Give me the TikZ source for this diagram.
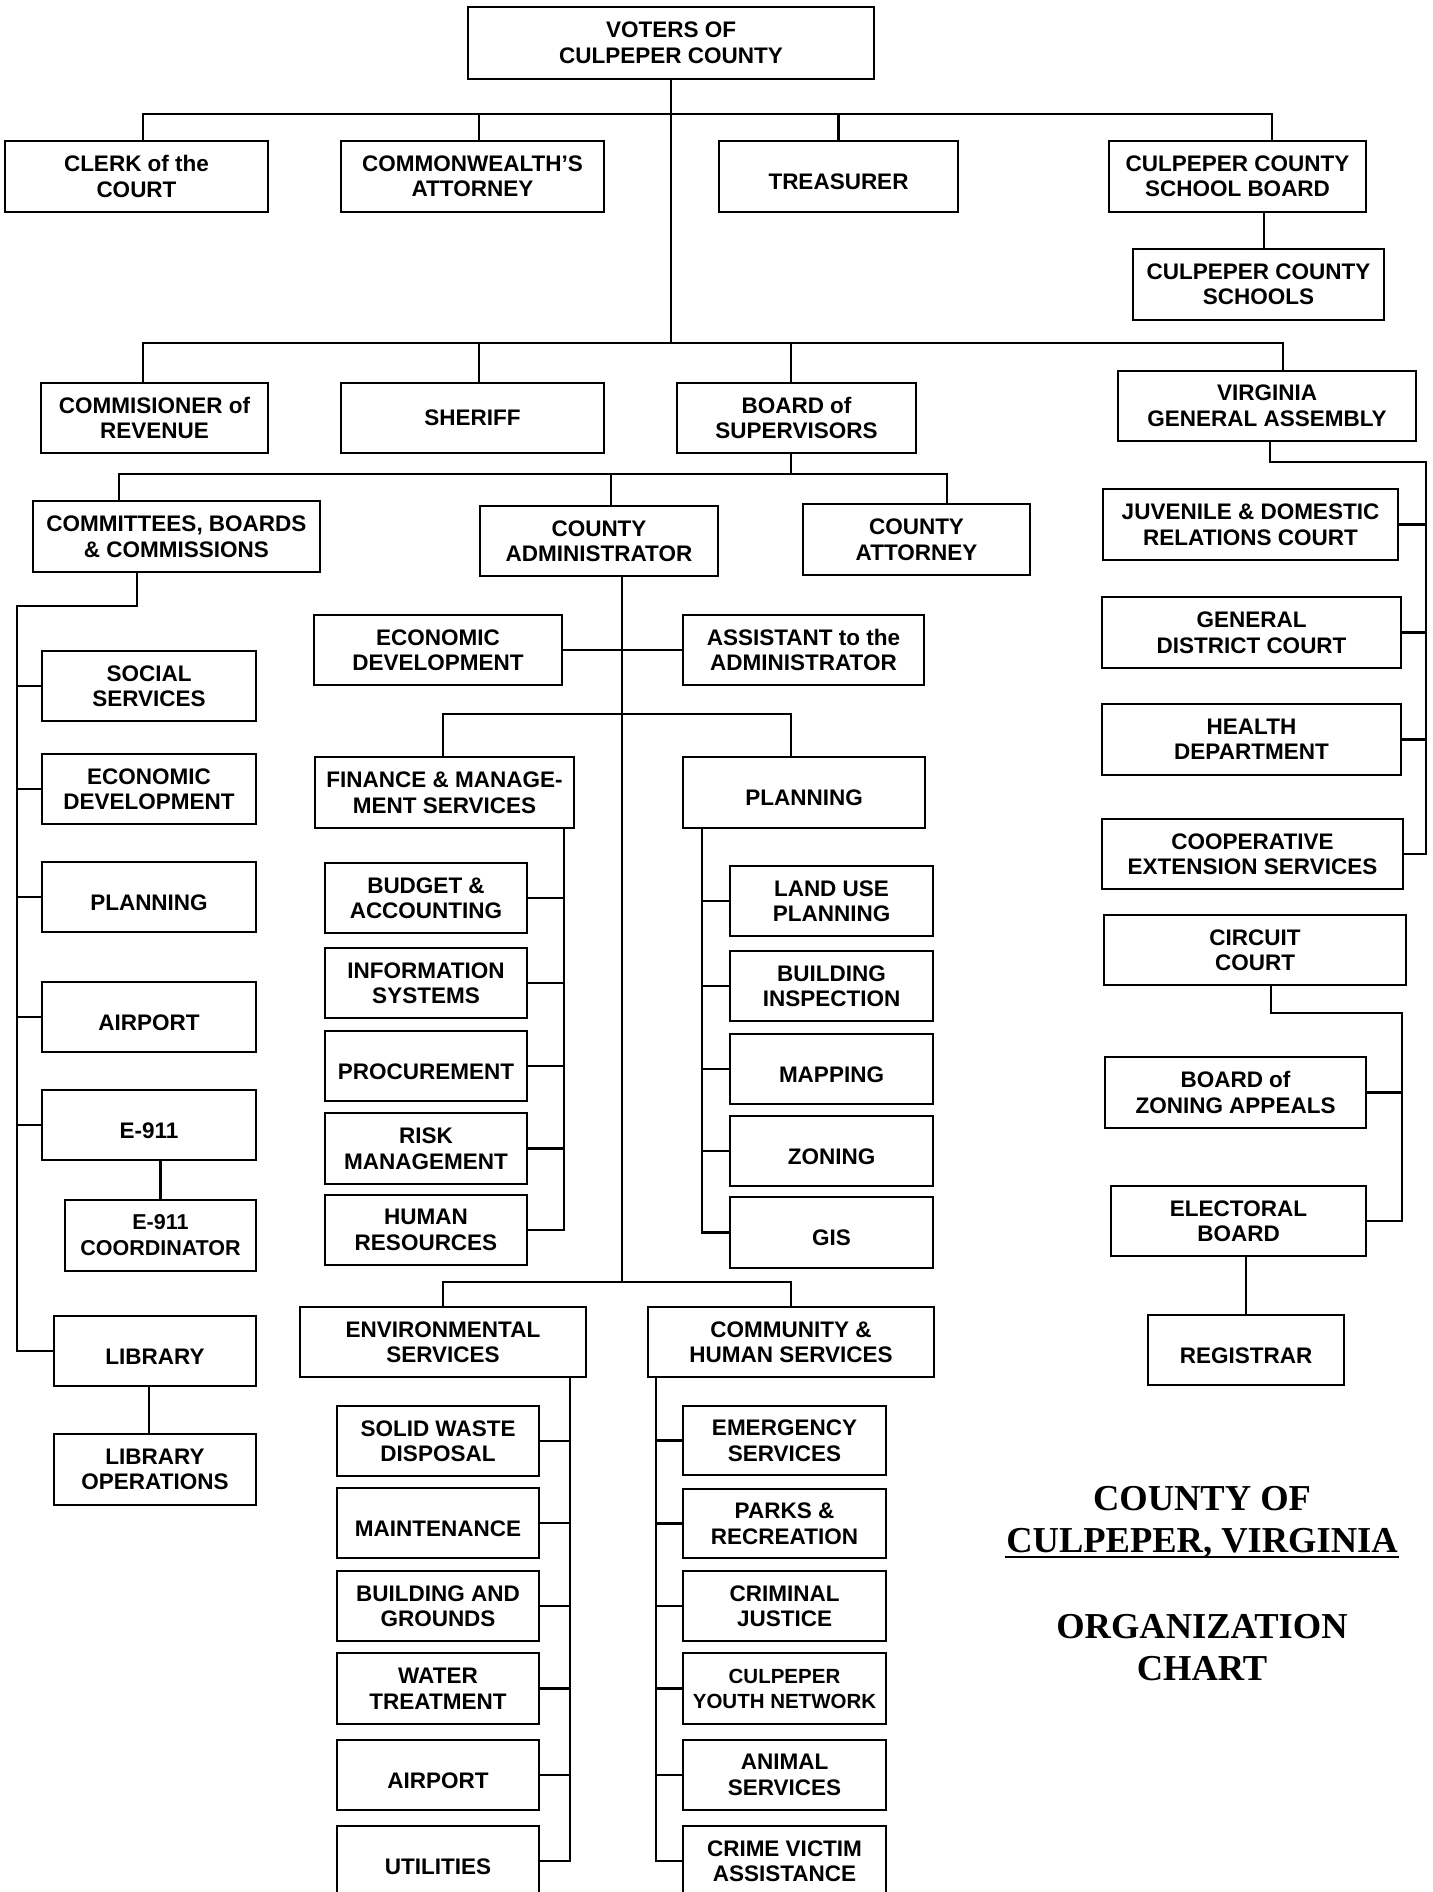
\documentclass[tikz,border=0pt]{standalone}
\usepackage{fontspec}
\setmainfont{Liberation Sans}
\newfontfamily\titleserif{Liberation Serif}

\begin{document}
\begin{tikzpicture}
[line width=2.2pt,
 every node/.style={inner sep=0pt},
 box/.style={draw, align=center, font=\fontsize{22.5}{25.5}\selectfont\bfseries},
 smallbox/.style={font=\fontsize{20.5}{25}\selectfont\bfseries},
 lone/.style={text height=26pt, text depth=0pt},
 ttl/.style={anchor=base, font=\fontsize{36.5}{42}\selectfont\titleserif\bfseries}]
\useasboundingbox (0pt,0pt) rectangle (1432pt,-1892pt);
% elected offices
\node (voters) [box, minimum width=406pt, minimum height=72pt] at (671pt,-43pt) {VOTERS OF\\CULPEPER COUNTY};
\node (clerk) [box, minimum width=263pt, minimum height=71pt] at (136.5pt,-176.5pt) {CLERK of the\\COURT};
\node (cwa) [box, minimum width=263pt, minimum height=71pt] at (472.5pt,-176.5pt) {COMMONWEALTH’S\\ATTORNEY};
\node (treas) [box, lone, minimum width=239pt, minimum height=71pt] at (838.5pt,-176.5pt) {TREASURER};
\node (sboard) [box, minimum width=257pt, minimum height=71pt] at (1237.5pt,-176.5pt) {CULPEPER COUNTY\\SCHOOL BOARD};
\node (schools) [box, minimum width=251pt, minimum height=71pt] at (1258.5pt,-284.5pt) {CULPEPER COUNTY\\SCHOOLS};
\node (comrev) [box, minimum width=227pt, minimum height=70pt] at (154.5pt,-418pt) {COMMISIONER of\\REVENUE};
\node (sheriff) [box, minimum width=263pt, minimum height=70pt] at (472.5pt,-418pt) {SHERIFF};
\node (bos) [box, minimum width=239pt, minimum height=70pt] at (796.5pt,-418pt) {BOARD of\\SUPERVISORS};
\node (vga) [box, minimum width=298pt, minimum height=70pt] at (1267pt,-406pt) {VIRGINIA\\GENERAL ASSEMBLY};
% board of supervisors
\node (cbc) [box, minimum width=287pt, minimum height=71pt] at (176.5pt,-536.5pt) {COMMITTEES, BOARDS\\\& COMMISSIONS};
\node (cadmin) [box, minimum width=238pt, minimum height=70pt] at (599pt,-541pt) {COUNTY\\ADMINISTRATOR};
\node (catty) [box, minimum width=227pt, minimum height=71pt] at (916.5pt,-539.5pt) {COUNTY\\ATTORNEY};
% committees, boards and commissions
\node (lsoc) [box, minimum width=214pt, minimum height=70pt] at (149pt,-686pt) {SOCIAL\\SERVICES};
\node (lecon) [box, minimum width=214pt, minimum height=70pt] at (149pt,-789pt) {ECONOMIC\\DEVELOPMENT};
\node (lplan) [box, lone, minimum width=214pt, minimum height=70pt] at (149pt,-897pt) {PLANNING};
\node (lair) [box, lone, minimum width=214pt, minimum height=70pt] at (149pt,-1017pt) {AIRPORT};
\node (e911) [box, lone, minimum width=214pt, minimum height=70pt] at (149pt,-1125pt) {E-911};
\node (e911c) [box, font=\fontsize{21.5}{26}\selectfont\bfseries, minimum width=191pt, minimum height=71pt] at (160.5pt,-1235.5pt) {E-911\\COORDINATOR};
\node (lib) [box, lone, minimum width=202pt, minimum height=70pt] at (155pt,-1351pt) {LIBRARY};
\node (libops) [box, minimum width=202pt, minimum height=71pt] at (155pt,-1469.5pt) {LIBRARY\\OPERATIONS};
% county administrator
\node (mecon) [box, minimum width=248pt, minimum height=70pt] at (438pt,-650pt) {ECONOMIC\\DEVELOPMENT};
\node (asst) [box, minimum width=241pt, minimum height=70pt] at (803.5pt,-650pt) {ASSISTANT to the\\ADMINISTRATOR};
\node (fin) [box, minimum width=259pt, minimum height=71pt] at (444.5pt,-792.5pt) {FINANCE \& MANAGE-\\MENT SERVICES};
\node (mplan) [box, lone, minimum width=242pt, minimum height=71pt] at (804pt,-792.5pt) {PLANNING};
\node (budget) [box, minimum width=202pt, minimum height=70pt] at (426pt,-898pt) {BUDGET \&\\ACCOUNTING};
\node (info) [box, minimum width=202pt, minimum height=70pt] at (426pt,-983pt) {INFORMATION\\SYSTEMS};
\node (proc) [box, lone, minimum width=202pt, minimum height=70pt] at (426pt,-1066pt) {PROCUREMENT};
\node (risk) [box, minimum width=202pt, minimum height=71pt] at (426pt,-1148.5pt) {RISK\\MANAGEMENT};
\node (hr) [box, minimum width=202pt, minimum height=70pt] at (426pt,-1230pt) {HUMAN\\RESOURCES};
\node (landuse) [box, minimum width=203pt, minimum height=70pt] at (831.5pt,-901pt) {LAND USE\\PLANNING};
\node (bldg) [box, minimum width=203pt, minimum height=70pt] at (831.5pt,-986pt) {BUILDING\\INSPECTION};
\node (mapping) [box, lone, minimum width=203pt, minimum height=70pt] at (831.5pt,-1069pt) {MAPPING};
\node (zoning) [box, lone, minimum width=203pt, minimum height=70pt] at (831.5pt,-1151pt) {ZONING};
\node (gis) [box, lone, minimum width=203pt, minimum height=71pt] at (831.5pt,-1232.5pt) {GIS};
\node (env) [box, minimum width=286pt, minimum height=70pt] at (443pt,-1342pt) {ENVIRONMENTAL\\SERVICES};
\node (chs) [box, minimum width=286pt, minimum height=70pt] at (791pt,-1342pt) {COMMUNITY \&\\HUMAN SERVICES};
\node (solid) [box, minimum width=202pt, minimum height=70pt] at (438pt,-1441pt) {SOLID WASTE\\DISPOSAL};
\node (maint) [box, lone, minimum width=202pt, minimum height=70pt] at (438pt,-1523pt) {MAINTENANCE};
\node (bag) [box, minimum width=202pt, minimum height=70pt] at (438pt,-1606pt) {BUILDING AND\\GROUNDS};
\node (water) [box, minimum width=202pt, minimum height=71pt] at (438pt,-1688.5pt) {WATER\\TREATMENT};
\node (eair) [box, lone, minimum width=202pt, minimum height=70pt] at (438pt,-1775pt) {AIRPORT};
\node (util) [box, lone, minimum width=202pt, minimum height=70pt] at (438pt,-1861pt) {UTILITIES};
\node (emerg) [box, minimum width=203pt, minimum height=69pt] at (784.5pt,-1440.5pt) {EMERGENCY\\SERVICES};
\node (parks) [box, minimum width=203pt, minimum height=69pt] at (784.5pt,-1523.5pt) {PARKS \&\\RECREATION};
\node (crim) [box, minimum width=203pt, minimum height=70pt] at (784.5pt,-1606pt) {CRIMINAL\\JUSTICE};
\node (cyn) [box, smallbox, minimum width=203pt, minimum height=71pt] at (784.5pt,-1688.5pt) {CULPEPER\\YOUTH NETWORK};
\node (animal) [box, minimum width=203pt, minimum height=70pt] at (784.5pt,-1775pt) {ANIMAL\\SERVICES};
\node (cva) [box, minimum width=203pt, minimum height=70pt] at (784.5pt,-1861pt) {CRIME VICTIM\\ASSISTANCE};
% general assembly
\node (jdr) [box, minimum width=295pt, minimum height=71pt] at (1250.5pt,-524.5pt) {JUVENILE \& DOMESTIC\\RELATIONS COURT};
\node (gdc) [box, minimum width=299pt, minimum height=71pt] at (1251.5pt,-632.5pt) {GENERAL\\DISTRICT COURT};
\node (health) [box, minimum width=299pt, minimum height=71pt] at (1251.5pt,-739.5pt) {HEALTH\\DEPARTMENT};
\node (coop) [box, minimum width=301pt, minimum height=70pt] at (1252.5pt,-854pt) {COOPERATIVE\\EXTENSION SERVICES};
\node (circuit) [box, minimum width=302pt, minimum height=70pt] at (1255pt,-950pt) {CIRCUIT\\COURT};
\node (bza) [box, minimum width=261pt, minimum height=71pt] at (1235.5pt,-1092.5pt) {BOARD of\\ZONING APPEALS};
\node (elect) [box, minimum width=255pt, minimum height=70pt] at (1238.5pt,-1221pt) {ELECTORAL\\BOARD};
\node (reg) [box, lone, minimum width=196pt, minimum height=70pt] at (1246pt,-1350pt) {REGISTRAR};
% title
\node (ttla) [ttl] at (1202pt,-1510pt) {COUNTY OF};
\node (ttlb) [ttl] at (1202pt,-1552pt) {CULPEPER, VIRGINIA};
\node (ttlc) [ttl] at (1202pt,-1638pt) {ORGANIZATION};
\node (ttld) [ttl] at (1202pt,-1680pt) {CHART};
\draw [line width=2pt] ([yshift=-5pt]ttlb.base west) -- ([yshift=-5pt]ttlb.base east);
% branch points
\coordinate (br1) at (671pt,-114pt);
\coordinate (br2) at (671pt,-343pt);
\coordinate (br3) at (791pt,-474pt);
\coordinate (br4) at (622pt,-714pt);
\coordinate (br5) at (622pt,-1282pt);
\coordinate (lsp) at (17pt,-606pt);
\coordinate (rsp) at (1426pt,-462pt);
\coordinate (csq) at (1402pt,-1013pt);
\coordinate (fsp) at ([xshift=-11pt]fin.south east);
\coordinate (psp) at ([xshift=20pt]mplan.south west);
\coordinate (esp) at ([xshift=-17pt]env.south east);
\coordinate (hsp) at ([xshift=9pt]chs.south west);
% voters
\draw (voters.south) -- (br2);
\draw ([xshift=6.5pt]clerk.north) |- (br1);
\draw ([xshift=6.5pt]cwa.north) |- (br1);
\draw (treas.north) |- (br1);
\draw ([xshift=34.5pt]sboard.north) |- (br1);
\draw ([xshift=26.5pt]sboard.south) -- ([xshift=26.5pt]sboard.south |- schools.north);
\draw ([xshift=-11.5pt]comrev.north) |- (br2);
\draw ([xshift=6.5pt]sheriff.north) |- (br2);
\draw ([xshift=-5.5pt]bos.north) |- (br2);
\draw ([xshift=16pt]vga.north) |- (br2);
% board of supervisors
\draw ([xshift=-5.5pt]bos.south) -- (br3);
\draw ([xshift=-57.5pt]cbc.north) |- (br3);
\draw ([xshift=12pt]cadmin.north) |- (br3);
\draw ([xshift=30.5pt]catty.north) |- (br3);
% committees
\draw ([xshift=-39.5pt]cbc.south) |- (lsp) |- (lib.west);
\draw (lsoc.west) -- (lsoc.west -| lsp);
\draw (lecon.west) -- (lecon.west -| lsp);
\draw (lplan.west) -- (lplan.west -| lsp);
\draw (lair.west) -- (lair.west -| lsp);
\draw (e911.west) -- (e911.west -| lsp);
\draw (e911c.north) -- (e911c.north |- e911.south);
\draw ([xshift=-6pt]lib.south) -- ([xshift=-6pt]libops.north);
% administrator
\draw ([xshift=23pt]cadmin.south) -- (br5);
\draw (mecon.east) -- (asst.west);
\draw ([xshift=-1.5pt]fin.north) |- (br4);
\draw ([xshift=-13pt]mplan.north) |- (br4);
\draw (fsp) |- (hr.east);
\draw (budget.east) -- (budget.east -| fsp);
\draw (info.east) -- (info.east -| fsp);
\draw (proc.east) -- (proc.east -| fsp);
\draw (risk.east) -- (risk.east -| fsp);
\draw (psp) |- (gis.west);
\draw (landuse.west) -- (landuse.west -| psp);
\draw (bldg.west) -- (bldg.west -| psp);
\draw (mapping.west) -- (mapping.west -| psp);
\draw (zoning.west) -- (zoning.west -| psp);
\draw (env.north) |- (br5);
\draw (chs.north) |- (br5);
\draw (esp) |- (util.east);
\draw (solid.east) -- (solid.east -| esp);
\draw (maint.east) -- (maint.east -| esp);
\draw (bag.east) -- (bag.east -| esp);
\draw (water.east) -- (water.east -| esp);
\draw (eair.east) -- (eair.east -| esp);
\draw (hsp) |- (cva.west);
\draw (emerg.west) -- (emerg.west -| hsp);
\draw (parks.west) -- (parks.west -| hsp);
\draw (crim.west) -- (crim.west -| hsp);
\draw (cyn.west) -- (cyn.west -| hsp);
\draw (animal.west) -- (animal.west -| hsp);
% general assembly
\draw ([xshift=3pt]vga.south) |- (rsp) |- (coop.east);
\draw (jdr.east) -- (jdr.east -| rsp);
\draw (gdc.east) -- (gdc.east -| rsp);
\draw (health.east) -- (health.east -| rsp);
\draw ([xshift=16pt]circuit.south) |- (csq) |- (elect.east);
\draw (bza.east) -- (bza.east -| csq);
\draw (reg.north) -- (reg.north |- elect.south);
\end{tikzpicture}
\end{document}
